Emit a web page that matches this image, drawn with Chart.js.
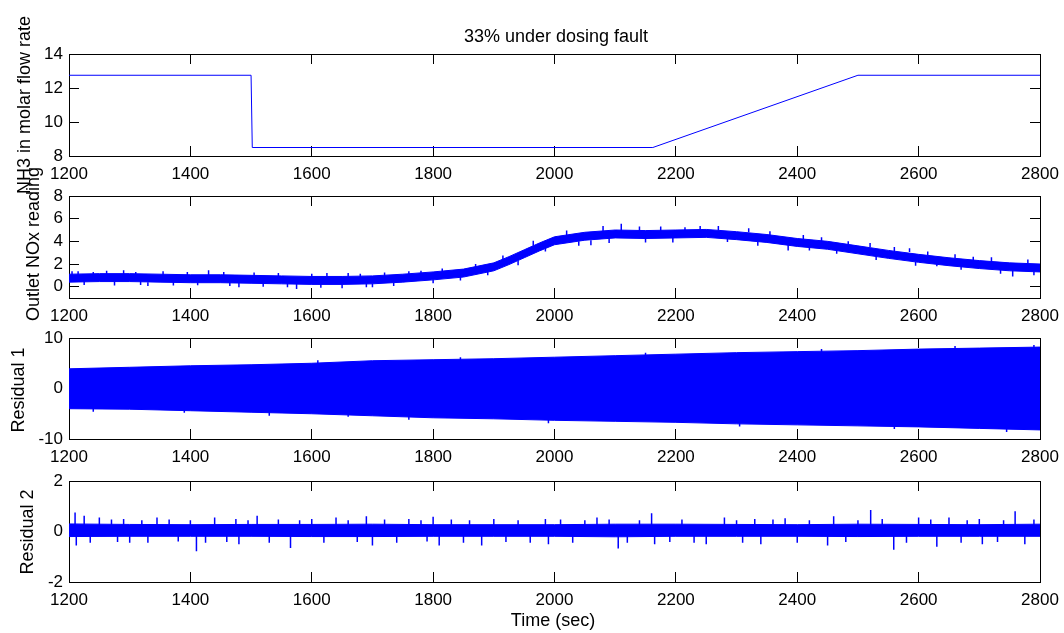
<!DOCTYPE html>
<html lang="en">
<head>
<meta charset="UTF-8">
<title>33% under dosing fault</title>
<script src="https://cdn.jsdelivr.net/npm/chart.js"></script>
<style>
  body { margin: 0; background: #fff; }
  #wrap { position: relative; width: 1064px; height: 633px; }
  #wrap canvas { position: absolute; left: 0; top: 0; }
</style>
</head>
<body>
<div id="wrap">
  <canvas id="nh3" width="1064" height="633"></canvas>
  <canvas id="nox" width="1064" height="633"></canvas>
  <canvas id="res1" width="1064" height="633"></canvas>
  <canvas id="res2" width="1064" height="633"></canvas>
</div>
<script>
// shared time axis
const timeTicks = [1200, 1400, 1600, 1800, 2000, 2200, 2400, 2600, 2800];

// panel 1: NH3 dosing
const nh3Time = [1200, 1500, 1502, 2162, 2500, 2800];
const nh3Flow = [12.75, 12.75, 8.5, 8.5, 12.75, 12.75];
const nh3Ticks = [8, 10, 12, 14];

// panel 2: outlet NOx (noise band read as upper / lower envelope + visible spikes)
const noxTime = [1200, 1250, 1300, 1350, 1400, 1450, 1500, 1550, 1600, 1650, 1700, 1750, 1800, 1850, 1900, 1925, 1950, 1975, 2000, 2050, 2100, 2150, 2200, 2250, 2300, 2350, 2400, 2450, 2500, 2550, 2600, 2650, 2700, 2750, 2800];
const noxHigh = [1.1, 1.15, 1.15, 1.1, 1.05, 1.05, 1.0, 0.95, 0.9, 0.9, 0.95, 1.1, 1.3, 1.55, 2.1, 2.65, 3.25, 3.85, 4.4, 4.8, 5.0, 4.95, 5.0, 5.05, 4.85, 4.6, 4.25, 4.0, 3.6, 3.2, 2.85, 2.55, 2.3, 2.1, 2.0];
const noxLow = [0.4, 0.45, 0.45, 0.4, 0.35, 0.35, 0.3, 0.25, 0.2, 0.2, 0.25, 0.4, 0.6, 0.85, 1.4, 1.95, 2.55, 3.15, 3.7, 4.1, 4.3, 4.25, 4.3, 4.35, 4.15, 3.9, 3.55, 3.3, 2.9, 2.5, 2.15, 1.85, 1.6, 1.4, 1.3];
const noxSpikeTime = [1205, 1215, 1225, 1240, 1262, 1275, 1290, 1310, 1318, 1330, 1355, 1372, 1395, 1412, 1430, 1455, 1465, 1480, 1505, 1520, 1545, 1560, 1575, 1600, 1615, 1625, 1650, 1660, 1680, 1690, 1700, 1720, 1735, 1760, 1780, 1800, 1815, 1845, 1870, 1890, 1915, 1940, 1965, 1985, 2020, 2040, 2060, 2080, 2090, 2110, 2140, 2150, 2175, 2195, 2215, 2240, 2270, 2285, 2320, 2335, 2355, 2385, 2410, 2420, 2440, 2465, 2484, 2520, 2530, 2560, 2585, 2595, 2615, 2630, 2660, 2670, 2690, 2720, 2735, 2755, 2780, 2790];
const noxSpikeFrom = [0.9, 1.0, 0.5, 0.9, 1.0, 0.5, 0.9, 1.0, 0.5, 0.4, 1.0, 0.5, 1.0, 0.5, 0.9, 1.0, 0.45, 0.4, 0.9, 0.4, 0.9, 0.35, 0.3, 0.85, 0.3, 0.85, 0.4, 0.8, 0.85, 0.3, 0.3, 0.9, 0.35, 1.0, 1.0, 0.65, 1.25, 0.9, 1.6, 1.4, 2.3, 2.3, 3.6, 3.5, 4.5, 4.0, 4.1, 4.85, 4.3, 4.9, 4.85, 4.3, 4.9, 4.35, 4.9, 4.9, 4.95, 4.35, 4.8, 4.0, 4.55, 3.7, 4.2, 3.6, 3.95, 3.3, 3.6, 3.5, 2.75, 3.0, 3.05, 2.2, 2.8, 2.3, 2.5, 1.9, 2.2, 2.25, 1.5, 1.5, 2.05, 1.35];
const noxSpikeTo = [1.35, 1.35, 0.15, 1.3, 1.4, 0.1, 1.45, 1.3, 0.15, 0.05, 1.35, 0.1, 1.3, 0.12, 1.45, 1.3, 0.05, -0.05, 1.25, 0.0, 1.2, -0.05, -0.2, 1.15, -0.1, 1.2, -0.15, 1.2, 1.15, -0.05, -0.05, 1.25, 0.05, 1.35, 1.4, 0.3, 1.6, 0.55, 2.0, 1.0, 2.75, 1.9, 4.05, 3.1, 4.95, 3.6, 3.65, 5.35, 3.85, 5.55, 5.3, 3.9, 5.3, 3.9, 5.25, 5.35, 5.35, 3.95, 5.15, 3.6, 4.9, 3.2, 4.55, 3.2, 4.35, 2.9, 4.0, 3.85, 2.35, 3.5, 3.4, 1.85, 3.1, 1.8, 2.85, 1.5, 2.65, 2.6, 1.15, 0.9, 2.4, 1.0];
const noxTicks = [0, 2, 4, 6, 8];

// panel 3: residual 1 (dense oscillation, envelope)
const res1Time = [1200, 1300, 1400, 1500, 1600, 1700, 1800, 1900, 2000, 2100, 2200, 2300, 2400, 2500, 2600, 2700, 2800];
const res1High = [3.9, 4.2, 4.5, 4.7, 5.0, 5.5, 5.7, 5.9, 6.2, 6.5, 6.8, 7.1, 7.3, 7.5, 7.8, 8.0, 8.2];
const res1Low = [-4.0, -4.1, -4.4, -4.7, -5.0, -5.4, -5.8, -6.0, -6.3, -6.5, -6.7, -7.0, -7.2, -7.4, -7.6, -7.9, -8.2];
const res1SpikeTime = [1240, 1390, 1530, 1610, 1660, 1760, 1845, 1990, 2150, 2305, 2440, 2560, 2660, 2745, 2790];
const res1SpikeTo = [-4.6, -4.8, -5.4, 5.6, -5.6, -6.2, 6.2, -6.9, 7.1, -7.5, 7.8, -8.0, 8.4, -8.6, 8.6];
const res1Ticks = [-10, 0, 10];

// panel 4: residual 2
const res2Time = [1200, 1300, 1400, 1500, 1600, 1700, 1800, 1900, 2000, 2100, 2200, 2300, 2400, 2500, 2600, 2700, 2800];
const res2High = [0.3, 0.28, 0.27, 0.28, 0.28, 0.29, 0.27, 0.27, 0.27, 0.29, 0.29, 0.28, 0.27, 0.29, 0.28, 0.27, 0.29];
const res2Low = [-0.2, -0.19, -0.19, -0.19, -0.2, -0.2, -0.19, -0.19, -0.19, -0.21, -0.19, -0.19, -0.19, -0.2, -0.19, -0.19, -0.19];
const res2SpikeTime = [1210, 1212, 1225, 1235, 1250, 1270, 1280, 1290, 1300, 1320, 1330, 1345, 1365, 1380, 1400, 1410, 1425, 1440, 1460, 1475, 1480, 1495, 1510, 1530, 1545, 1565, 1580, 1600, 1620, 1640, 1660, 1675, 1690, 1700, 1720, 1740, 1760, 1780, 1790, 1800, 1810, 1830, 1850, 1860, 1880, 1900, 1920, 1940, 1960, 1985, 1990, 2010, 2030, 2050, 2070, 2090, 2105, 2120, 2140, 2160, 2165, 2190, 2210, 2230, 2250, 2280, 2300, 2310, 2330, 2340, 2360, 2380, 2400, 2420, 2450, 2460, 2480, 2500, 2521, 2540, 2559, 2580, 2600, 2620, 2630, 2650, 2670, 2680, 2700, 2705, 2730, 2740, 2759, 2775, 2790];
const res2SpikeTo = [0.75, -0.55, 0.62, -0.45, 0.55, 0.48, -0.42, 0.5, -0.45, 0.45, -0.45, 0.55, 0.48, -0.4, 0.45, -0.78, -0.45, 0.55, -0.42, 0.5, -0.5, 0.45, 0.62, -0.45, 0.48, -0.65, 0.45, 0.5, -0.45, 0.55, 0.45, -0.42, 0.6, -0.55, 0.48, -0.45, 0.5, 0.45, -0.4, 0.58, -0.55, 0.48, -0.45, 0.45, -0.55, 0.5, -0.42, 0.45, -0.45, 0.5, -0.5, 0.48, -0.45, 0.45, 0.55, 0.48, -0.67, -0.45, 0.45, 0.72, -0.5, -0.42, 0.48, -0.45, -0.5, 0.55, 0.45, -0.45, 0.5, -0.5, 0.48, 0.52, -0.45, 0.45, -0.55, 0.6, -0.42, 0.45, 0.85, 0.5, -0.72, -0.45, 0.55, 0.48, -0.6, 0.55, -0.45, 0.45, 0.5, -0.5, -0.42, 0.45, 0.8, -0.5, 0.48];
const res2SpikeBase = 0.05;
const res2Ticks = [-2, 0, 2];

const BLUE = '#0000ff';
const FONT = "'Liberation Sans', Arial, Helvetica, sans-serif";
Chart.defaults.font.family = FONT;
Chart.defaults.font.size = 17;
Chart.defaults.color = '#000';

function pts(xs, ys) {
    return xs.map((x, i) => ({ x: x, y: ys[i] }));
}

// each spike is a short vertical stroke, strokes separated by gaps
function spikePts(ts, from, to) {
    const out = [];
    ts.forEach((t, i) => {
        const a = Array.isArray(from) ? from[i] : from;
        out.push({ x: t, y: a }, { x: t, y: to[i] }, { x: t, y: null });
    });
    return out;
}

function lineSet(data, extra) {
    return Object.assign({
        data: data,
        borderColor: BLUE,
        backgroundColor: BLUE,
        borderWidth: 1,
        pointRadius: 0,
        tension: 0,
        fill: false,
        spanGaps: false
    }, extra || {});
}

function bandSets(time, hi, lo) {
    return [
        lineSet(pts(time, hi), { fill: '+1' }),
        lineSet(pts(time, lo))
    ];
}

function fixTicks(list) {
    return function (scale) { scale.ticks = list.map(v => ({ value: v })); };
}

function makeScales(yMin, yMax, yTicks) {
    const grid = { drawOnChartArea: false, color: '#000', tickLength: -10, lineWidth: 1 };
    const border = { display: true, color: '#000', width: 1 };
    const label = v => String(v);
    return {
        x: {
            type: 'linear', position: 'bottom', min: 1200, max: 2800, grid: grid, border: border,
            afterBuildTicks: fixTicks(timeTicks),
            ticks: { padding: 18, maxRotation: 0, autoSkip: false, callback: label },
            afterFit: s => { s.height = 30; s.paddingLeft = 0; s.paddingRight = 0; }
        },
        x2: {
            type: 'linear', position: 'top', min: 1200, max: 2800, grid: grid, border: border,
            afterBuildTicks: fixTicks(timeTicks),
            ticks: { display: false },
            afterFit: s => { s.height = 0; s.paddingLeft = 0; s.paddingRight = 0; }
        },
        y: {
            type: 'linear', position: 'left', min: yMin, max: yMax, grid: grid, border: border,
            afterBuildTicks: fixTicks(yTicks),
            ticks: { padding: 16, callback: label },
            afterFit: s => { s.width = 69; }
        },
        y2: {
            type: 'linear', position: 'right', min: yMin, max: yMax, grid: grid, border: border,
            afterBuildTicks: fixTicks(yTicks),
            ticks: { display: false },
            afterFit: s => { s.width = 0; }
        }
    };
}

// free text (titles) drawn on the canvas without squeezing
const captions = {
    id: 'captions',
    afterDraw(chart, args, opts) {
        const ctx = chart.ctx;
        (opts.items || []).forEach(it => {
            ctx.save();
            ctx.font = '18px ' + FONT;
            ctx.fillStyle = '#000';
            ctx.textAlign = 'center';
            ctx.textBaseline = 'middle';
            ctx.translate(it.x, it.y);
            if (it.rotate) ctx.rotate(-Math.PI / 2);
            ctx.fillText(it.text, 0, 0);
            ctx.restore();
        });
    }
};

function panel(id, datasets, yMin, yMax, yTicks, top, bottom, items) {
    new Chart(document.getElementById(id), {
        type: 'line',
        data: { datasets: datasets },
        options: {
            responsive: false,
            animation: false,
            events: [],
            layout: { padding: { left: 0, right: 24, top: top, bottom: 633 - bottom - 30 } },
            scales: makeScales(yMin, yMax, yTicks),
            plugins: {
                legend: { display: false },
                tooltip: { enabled: false },
                captions: { items: items }
            }
        },
        plugins: [captions]
    });
}

panel('nh3', [lineSet(pts(nh3Time, nh3Flow))], 8, 14, nh3Ticks, 54, 156, [
    { text: '33% under dosing fault', x: 556, y: 37 },
    { text: 'NH3 in molar flow rate', x: 25, y: 105, rotate: true }
]);

panel('nox', bandSets(noxTime, noxHigh, noxLow).concat([
    lineSet(spikePts(noxSpikeTime, noxSpikeFrom, noxSpikeTo), { borderWidth: 1.5 })
]), -1, 8, noxTicks, 196, 298, [
    { text: 'Outlet NOx reading', x: 34, y: 244, rotate: true }
]);

panel('res1', bandSets(res1Time, res1High, res1Low).concat([
    lineSet(spikePts(res1SpikeTime, 0, res1SpikeTo), { borderWidth: 1.5 })
]), -10, 10, res1Ticks, 338, 439, [
    { text: 'Residual 1', x: 19, y: 390, rotate: true }
]);

panel('res2', bandSets(res2Time, res2High, res2Low).concat([
    lineSet(spikePts(res2SpikeTime, res2SpikeBase, res2SpikeTo), { borderWidth: 1.5 })
]), -2, 2, res2Ticks, 481, 582, [
    { text: 'Residual 2', x: 28, y: 532, rotate: true },
    { text: 'Time (sec)', x: 553, y: 621 }
]);
</script>
</body>
</html>
